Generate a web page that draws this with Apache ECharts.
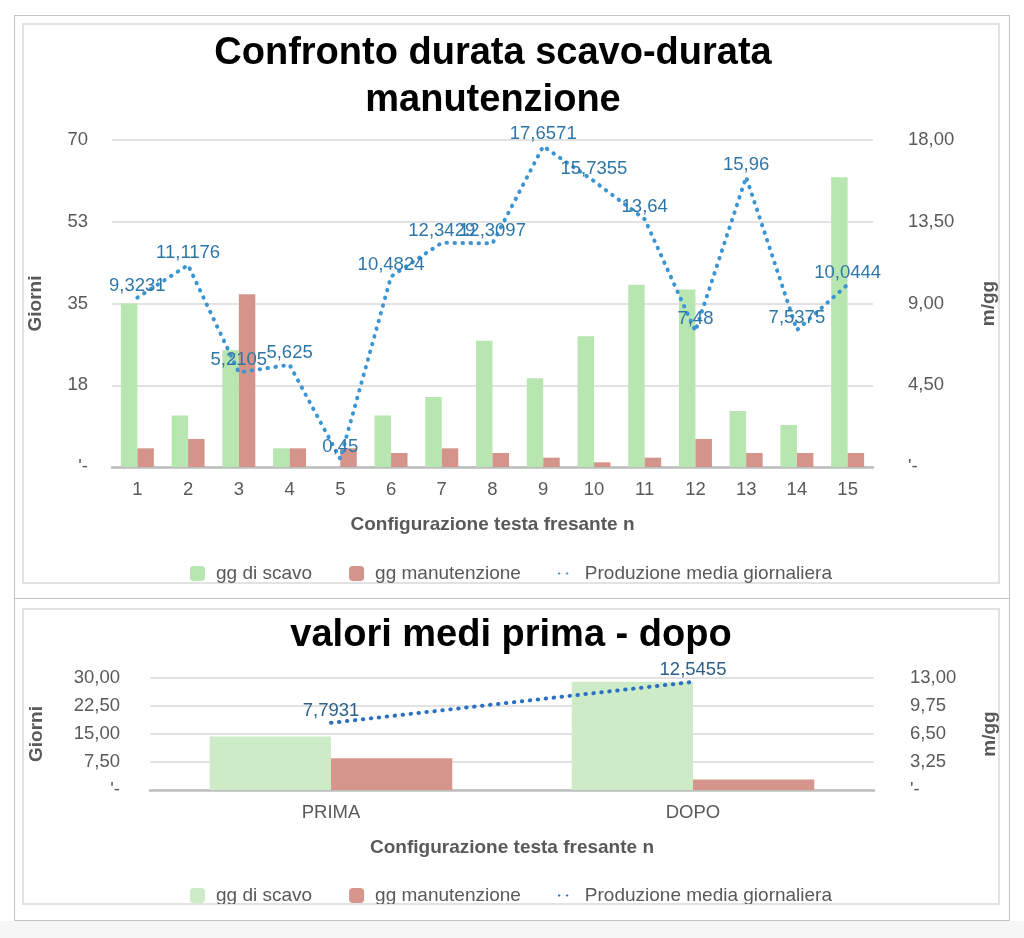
<!DOCTYPE html>
<html>
<head>
<meta charset="utf-8">
<script src="https://cdn.jsdelivr.net/npm/echarts@6/dist/echarts.min.js"></script>
<style>
  html, body { margin: 0; padding: 0; background: #f6f6f6; }
  #page { position: absolute; left: 0; top: 0; width: 1024px; height: 921px; background: #fff; }
  #frame { position: absolute; left: 14px; top: 15px; width: 994px; height: 904px; border: 1px solid #c4c4c4; }
  #sep { position: absolute; left: 14px; top: 598px; width: 996px; height: 1px; background: #c4c4c4; }
  .panel { position: absolute; border: 2px solid #e2e2e2; box-sizing: border-box; }
  #p1 { left: 22px; top: 23px; width: 978px; height: 561px; }
  #p2 { left: 22px; top: 608px; width: 978px; height: 297px; }
  .chart { position: absolute; }
  #c1 { left: 23px; top: 24px; width: 976px; height: 559px; }
  #c2 { left: 23px; top: 609px; width: 976px; height: 295px; }
</style>
</head>
<body>
<div id="page">
  <div id="frame"></div>
  <div id="sep"></div>
  <div class="panel" id="p1"></div>
  <div class="panel" id="p2"></div>
  <div class="chart" id="c1"></div>
  <div class="chart" id="c2"></div>
</div>
<script>
// --- dati grafico 1
var configs = ['1', '2', '3', '4', '5', '6', '7', '8', '9', '10', '11', '12', '13', '14', '15'];
var ggScavo = [35, 11, 25, 4, 0, 11, 15, 27, 19, 28, 39, 38, 12, 9, 62];
var ggManutenzione = [4, 6, 37, 4, 4, 3, 4, 3, 2, 1, 2, 6, 3, 3, 3];
var produzione = [9.3231, 11.1176, 5.2105, 5.625, 0.45, 10.4824, 12.3429, 12.3097, 17.6571, 15.7355, 13.64, 7.48, 15.96, 7.5375, 10.0444];

// --- dati grafico 2
var fasi = ['PRIMA', 'DOPO'];
var mediaScavo = [14.3, 29];
var mediaManutenzione = [8.5, 2.8];
var mediaProduzione = [7.7931, 12.5455];

var FONT = '"Liberation Sans", Arial, Helvetica, sans-serif';
var GREY = '#595959';
var legendNames = ['gg di scavo', 'gg manutenzione', 'Produzione media giornaliera'];

function comma(v) { return String(v).replace('.', ','); }
function fmtInt(v) { return v === 0 ? "'-" : String(Math.round(v)); }
function fmt2(v) { return v === 0 ? "'-" : v.toFixed(2).replace('.', ','); }

function makeOption(cfg) {
  var nameStyle = { fontSize: 19, fontWeight: 'bold', color: GREY, fontFamily: FONT };
  var grid = cfg.grid;
  grid.containLabel = false;
  grid.outerBoundsMode = 'none';
  return {
    animation: false,
    textStyle: { fontFamily: FONT },
    title: {
      text: cfg.title,
      left: cfg.titleX,
      textAlign: 'center',
      top: cfg.titleTop,
      padding: 0,
      textStyle: { fontSize: 38, fontWeight: 'bold', color: '#000', lineHeight: cfg.titleLH, fontFamily: FONT }
    },
    legend: {
      data: legendNames,
      left: 'center',
      top: cfg.legendTop,
      padding: 0,
      itemWidth: 15,
      itemHeight: 15,
      itemGap: 37,
      textStyle: { fontSize: 19, color: GREY, fontFamily: FONT, padding: [0, 0, 0, 6] }
    },
    grid: grid,
    xAxis: {
      type: 'category',
      data: cfg.cats,
      name: 'Configurazione testa fresante n',
      nameLocation: 'middle',
      nameGap: 48,
      nameTextStyle: nameStyle,
      axisLine: { lineStyle: { color: '#bdbdbd', width: 2.5 } },
      axisTick: { show: false },
      axisLabel: { fontSize: 18.5, color: GREY, margin: 13, fontFamily: FONT }
    },
    yAxis: [{
      type: 'value',
      min: 0, max: cfg.leftMax, interval: cfg.leftInt,
      name: 'Giorni',
      nameLocation: 'middle',
      nameGap: cfg.leftNameGap,
      nameTextStyle: nameStyle,
      axisLine: { show: false },
      axisTick: { show: false },
      axisLabel: { fontSize: 18.5, color: GREY, margin: cfg.leftMargin, formatter: cfg.leftFmt, fontFamily: FONT },
      splitLine: { lineStyle: { color: '#d9d9d9', width: 1.5 } }
    }, {
      type: 'value',
      min: 0, max: cfg.rightMax, interval: cfg.rightInt,
      name: 'm/gg',
      nameLocation: 'middle',
      nameGap: 106,
      nameTextStyle: nameStyle,
      axisLine: { show: false },
      axisTick: { show: false },
      axisLabel: { fontSize: 18.5, color: GREY, margin: cfg.rightMargin, formatter: fmt2, fontFamily: FONT },
      splitLine: { show: false }
    }],
    series: [{
      name: 'gg di scavo',
      type: 'bar',
      data: cfg.scavo,
      barGap: 0,
      barCategoryGap: cfg.catGap,
      itemStyle: { color: cfg.green }
    }, {
      name: 'gg manutenzione',
      type: 'bar',
      data: cfg.manut,
      barGap: 0,
      barCategoryGap: cfg.catGap,
      itemStyle: { color: cfg.red }
    }, {
      name: 'Produzione media giornaliera',
      type: 'line',
      yAxisIndex: 1,
      data: cfg.prod,
      showSymbol: true,
      symbol: 'circle',
      symbolSize: 1,
      z: 5,
      itemStyle: { color: 'rgba(0,0,0,0)' },
      lineStyle: { color: cfg.lineColor, width: 4, type: [0.5, 7.5], cap: 'round' },
      label: {
        show: true,
        position: 'top',
        distance: 2,
        fontSize: 18.5,
        color: cfg.labelColor,
        fontFamily: FONT,
        formatter: function (p) { return comma(p.value); }
      }
    }]
  };
}

var chart1 = echarts.init(document.getElementById('c1'));
chart1.setOption(makeOption({
  title: 'Confronto durata scavo-durata\nmanutenzione',
  titleX: 470, titleTop: 6, titleLH: 47,
  legendTop: 540,
  grid: { left: 89, right: 126, top: 116, bottom: 116 },
  cats: configs,
  leftMax: 70, leftInt: 17.5, leftFmt: fmtInt, leftNameGap: 67, leftMargin: 24,
  rightMax: 18, rightInt: 4.5, rightMargin: 35,
  scavo: ggScavo, manut: ggManutenzione, prod: produzione,
  catGap: '35%',
  green: '#b8e6b1', red: '#d5948b',
  lineColor: '#3b95d3', labelColor: '#2f76a8'
}));

var chart2 = echarts.init(document.getElementById('c2'));
chart2.setOption(makeOption({
  title: 'valori medi prima - dopo',
  titleX: 488, titleTop: 6, titleLH: 42,
  legendTop: 277,
  grid: { left: 127, right: 125, top: 69, bottom: 114 },
  cats: fasi,
  leftMax: 30, leftInt: 7.5, leftFmt: fmt2, leftNameGap: 104, leftMargin: 30,
  rightMax: 13, rightInt: 3.25, rightMargin: 36,
  scavo: mediaScavo, manut: mediaManutenzione, prod: mediaProduzione,
  catGap: '33%',
  green: '#cdebc6', red: '#d6968d',
  lineColor: '#2e6fbf', labelColor: '#2d5f88'
}));
</script>
</body>
</html>
